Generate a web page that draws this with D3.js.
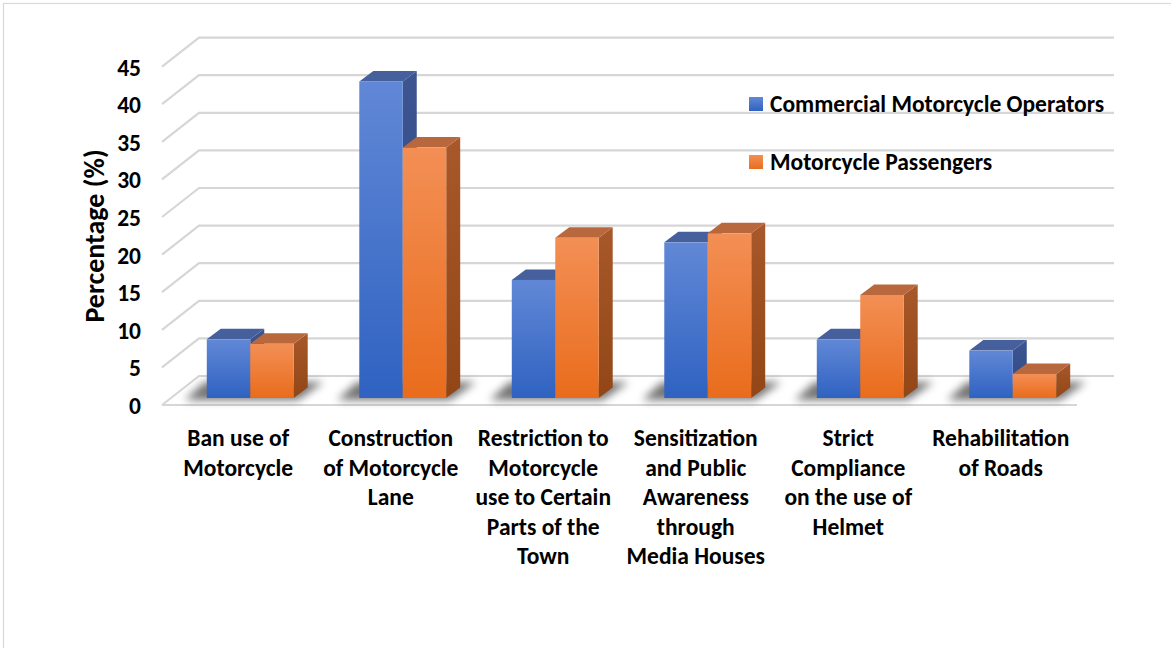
<!DOCTYPE html>
<html>
<head>
<meta charset="utf-8">
<script src="https://cdn.jsdelivr.net/npm/d3@7"></script>
<style>
  html, body { margin: 0; padding: 0; background: #fff; }
  svg { display: block; }
  text { font-family: Carlito, Lato, "Liberation Sans", sans-serif; font-weight: bold; fill: #000; }
</style>
</head>
<body>
<svg id="chart" width="1171" height="648"></svg>
<script>
// ---- data ----
const categories = [
  "Ban use of\nMotorcycle",
  "Construction\nof Motorcycle\nLane",
  "Restriction to\nMotorcycle\nuse to Certain\nParts of the\nTown",
  "Sensitization\nand Public\nAwareness\nthrough\nMedia Houses",
  "Strict\nCompliance\non the use of\nHelmet",
  "Rehabilitation\nof Roads"
];
const seriesNames = ["Commercial Motorcycle Operators", "Motorcycle Passengers"];
const operators  = [7.8, 42.1, 15.7, 20.7, 7.8, 6.3];
const passengers = [7.2, 33.3, 21.3, 21.9, 13.7, 3.2];
const yTicks = [0, 5, 10, 15, 20, 25, 30, 35, 40, 45];
const yTitle = "Percentage (%)";

// ---- layout ----
const svg = d3.select("#chart");
const X0 = 162, Y0 = 405, plotW = 915, plotH = 338.4;
const depth = { dx: 37, dy: -29 };      // full floor depth (oblique)
const barOff = { dx: 12, dy: -7 };      // bars' front face sits a little back
const barDepth = { dx: 14, dy: -10.5 }; // thickness of each column

const F = 23.5;

const x = d3.scaleBand().domain(d3.range(categories.length))
  .range([X0, X0 + plotW]).paddingInner(0.43).paddingOuter(0.215);
const xs = d3.scaleBand().domain([0, 1]).range([0, x.bandwidth()]);
const y = d3.scaleLinear().domain([0, 45]).range([Y0, Y0 - plotH]);

// ---- defs: gradients & blur ----
const defs = svg.append("defs");
function vgrad(id, c1, c2) {
  const g = defs.append("linearGradient").attr("id", id)
    .attr("x1", 0).attr("y1", 0).attr("x2", 0).attr("y2", 1);
  g.append("stop").attr("offset", "0%").attr("stop-color", c1);
  g.append("stop").attr("offset", "100%").attr("stop-color", c2);
}
vgrad("blueFront", "#6188d6", "#2f62c1");
vgrad("orangeFront", "#f38f55", "#e96c1c");
vgrad("blueSide", "#3d5590", "#2c4a86");
vgrad("orangeSide", "#a8582a", "#924616");
const palette = [
  { front: "url(#blueFront)", side: "url(#blueSide)", top: "#46609d" },
  { front: "url(#orangeFront)", side: "url(#orangeSide)", top: "#b9683d" }
];
defs.append("filter").attr("id", "soft").attr("x", "-30%").attr("y", "-100%")
  .attr("width", "160%").attr("height", "300%")
  .append("feGaussianBlur").attr("stdDeviation", 4.5);
defs.append("filter").attr("id", "gridSoft")
  .append("feGaussianBlur").attr("stdDeviation", 0.5);

// outer frame
svg.append("rect").attr("x", 3.5).attr("y", 3.5).attr("width", 1300).attr("height", 800)
  .attr("fill", "none").attr("stroke", "#d9d9d9").attr("stroke-width", 1.2);

// ---- gridlines (left wall diagonal + back wall) ----
const grid = svg.append("g").attr("filter", "url(#gridSoft)");
grid.selectAll("path.g").data(yTicks).join("path")
  .attr("d", v => `M${X0},${y(v)} L${X0 + depth.dx},${y(v) + depth.dy} L${X0 + plotW + depth.dx},${y(v) + depth.dy}`)
  .attr("fill", "none").attr("stroke", "#d6d6d6").attr("stroke-width", 2.2);
// floor front edge
grid.append("path")
  .attr("d", `M${X0},${Y0} L${X0 + plotW},${Y0}`)
  .attr("fill", "none").attr("stroke", "#d6d6d6").attr("stroke-width", 2.2);

// ---- y tick labels ----
svg.append("g").selectAll("text").data(yTicks).join("text")
  .attr("x", 141).attr("y", v => y(v) + 1)
  .attr("text-anchor", "end").attr("dominant-baseline", "central")
  .style("font-size", F + "px").text(d => d);

// y title
svg.append("text")
  .attr("transform", `translate(94,236) rotate(-90)`)
  .attr("text-anchor", "middle").attr("dominant-baseline", "central")
  .style("font-size", "28px").text(yTitle);

// ---- bars ----
const rows = categories.map((c, i) => [operators[i], passengers[i]]);
const barsG = svg.append("g");

rows.forEach((vals, i) => {
  const gx = x(i) + barOff.dx;
  const B = y(0) + barOff.dy;
  const L0 = gx, R0 = gx + x.bandwidth();
  // soft floor shadow under each pair
  barsG.append("path")
    .attr("d", `M${L0 - 22},${B + 2} L${R0 + 4},${B + 2} L${R0 + 30},${B - 16} L${L0 - 2},${B - 16} Z`)
    .attr("fill", "#000").attr("opacity", 0.55).attr("filter", "url(#soft)");

  vals.forEach((v, s) => {
    const L = gx + xs(s), R = L + xs.bandwidth();
    const T = y(v) + barOff.dy;
    const c = palette[s];
    const g = barsG.append("g");
    // side face
    g.append("path")
      .attr("d", `M${R},${T} L${R + barDepth.dx},${T + barDepth.dy} L${R + barDepth.dx},${B + barDepth.dy} L${R},${B} Z`)
      .attr("fill", c.side);
    // top face
    g.append("path")
      .attr("d", `M${L},${T} L${R},${T} L${R + barDepth.dx},${T + barDepth.dy} L${L + barDepth.dx},${T + barDepth.dy} Z`)
      .attr("fill", c.top);
    // front face
    g.append("rect")
      .attr("x", L).attr("y", T).attr("width", R - L).attr("height", B - T)
      .attr("fill", c.front);
  });
});

// ---- category labels ----
const lineH = 29.5;
const catG = svg.append("g");
categories.forEach((c, i) => {
  const cx = x(i) + x.bandwidth() / 2;
  const t = catG.append("text").attr("text-anchor", "middle").style("font-size", F + "px");
  c.split("\n").forEach((ln, k) => {
    t.append("tspan").attr("x", cx).attr("y", 438 + k * lineH)
      .attr("dominant-baseline", "central").text(ln);
  });
});

// ---- legend ----
const legendSwatch = ["url(#blueFront)", "url(#orangeFront)"];
const legendY = [103.5, 161.5];
const lg = svg.append("g");
seriesNames.forEach((name, s) => {
  lg.append("rect").attr("x", 749).attr("y", legendY[s] - 6.5)
    .attr("width", 14).attr("height", 14).attr("fill", legendSwatch[s]);
  lg.append("text").attr("x", 770).attr("y", legendY[s])
    .attr("dominant-baseline", "central").style("font-size", F + "px").text(name);
});
</script>
</body>
</html>
